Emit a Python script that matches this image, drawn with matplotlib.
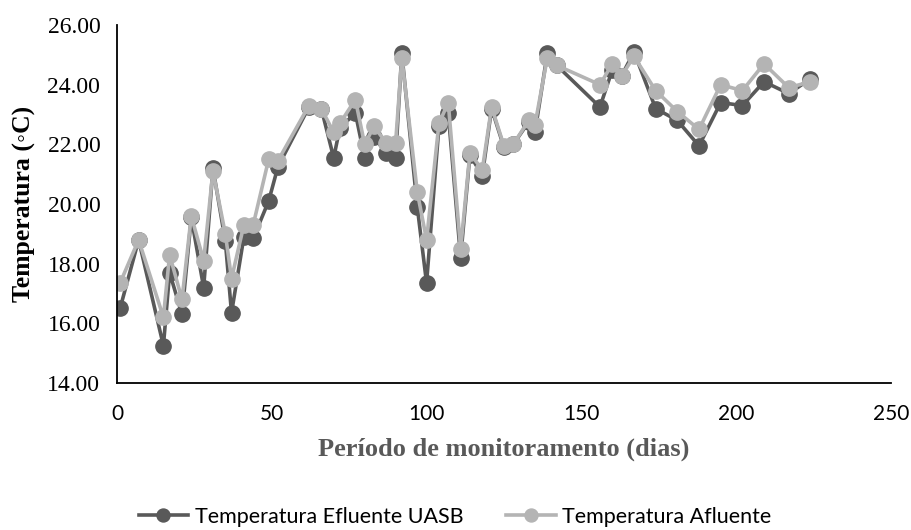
import matplotlib
matplotlib.use('Agg')
import matplotlib.pyplot as plt
from matplotlib.ticker import FormatStrFormatter

# dias de monitoramento
dias = [1, 7, 15, 17, 21, 24, 28, 31, 35, 37, 41, 44, 49, 52, 62, 66, 70, 72, 77, 80,
        83, 87, 90, 92, 97, 100, 104, 107, 111, 114, 118, 121, 125, 128, 133, 135, 139, 142, 156, 160,
        163, 167, 174, 181, 188, 195, 202, 209, 217, 224]

temp_efluente = [16.5, 18.8, 15.25, 17.7, 16.3, 19.55, 17.2, 21.2, 18.75, 16.35,
                 18.9, 18.85, 20.1, 21.25, 23.25, 23.2, 21.55, 22.55, 23.05, 21.55,
                 22.25, 21.7, 21.55, 25.05, 19.9, 17.35, 22.6, 23.05, 18.2, 21.65,
                 20.95, 23.2, 21.9, 22.0, 22.75, 22.4, 25.05, 24.65, 23.25, 24.5,
                 24.3, 25.1, 23.2, 22.8, 21.95, 23.4, 23.3, 24.1, 23.7, 24.2]

temp_afluente = [17.35, 18.8, 16.2, 18.3, 16.8, 19.6, 18.1, 21.1, 19.0, 17.5,
                 19.3, 19.3, 21.5, 21.45, 23.3, 23.2, 22.4, 22.7, 23.5, 22.0,
                 22.6, 22.05, 22.05, 24.9, 20.4, 18.8, 22.7, 23.4, 18.5, 21.7,
                 21.15, 23.25, 21.95, 22.0, 22.8, 22.65, 24.9, 24.65, 24.0, 24.7,
                 24.3, 24.95, 23.8, 23.1, 22.5, 24.0, 23.8, 24.7, 23.9, 24.1]

serif = ['Liberation Serif', 'DejaVu Serif']
sans = ['Lato', 'DejaVu Sans']

fig = plt.figure(figsize=(9.11, 5.30), dpi=100)
ax = fig.add_axes([0.1284, 0.2774, 0.8496, 0.6754])

ax.plot(dias, temp_efluente, color='#595959', lw=2.6, marker='o', ms=11,
        label='Temperatura Efluente UASB')
ax.plot(dias, temp_afluente, color='#b4b4b4', lw=2.6, marker='o', ms=11,
        label='Temperatura Afluente')

ax.set_xlim(0, 250)
ax.set_ylim(14, 26)
ax.set_xticks([0, 50, 100, 150, 200, 250])
ax.set_yticks([14, 16, 18, 20, 22, 24, 26])
ax.yaxis.set_major_formatter(FormatStrFormatter('%.2f'))
ax.tick_params(length=0)
ax.tick_params(axis='y', pad=12)
ax.tick_params(axis='x', pad=15)
for lab in ax.get_yticklabels():
    lab.set_fontfamily(serif)
    lab.set_fontsize(17)
for lab in ax.get_xticklabels():
    lab.set_fontfamily(sans)
    lab.set_fontsize(15)

for s in ['top', 'right']:
    ax.spines[s].set_visible(False)
for s in ['left', 'bottom']:
    ax.spines[s].set_color('black')
    ax.spines[s].set_linewidth(1.3)

ax.set_ylabel('Temperatura (\u25e6C)', fontfamily=serif, fontsize=18.5,
              fontweight='bold', labelpad=8)
ax.set_xlabel('Período de monitoramento (dias)', fontfamily=serif, fontsize=19,
              fontweight='bold', color='#595959', labelpad=10)

leg = fig.legend(loc='center', bbox_to_anchor=(455 / 911, 0.025), ncol=2,
                 frameon=False, prop={'family': sans, 'size': 15.5},
                 columnspacing=2.0, handlelength=2.3, handletextpad=0.3,
                 markerscale=0.85)

fig.savefig('out.png', dpi=100)
